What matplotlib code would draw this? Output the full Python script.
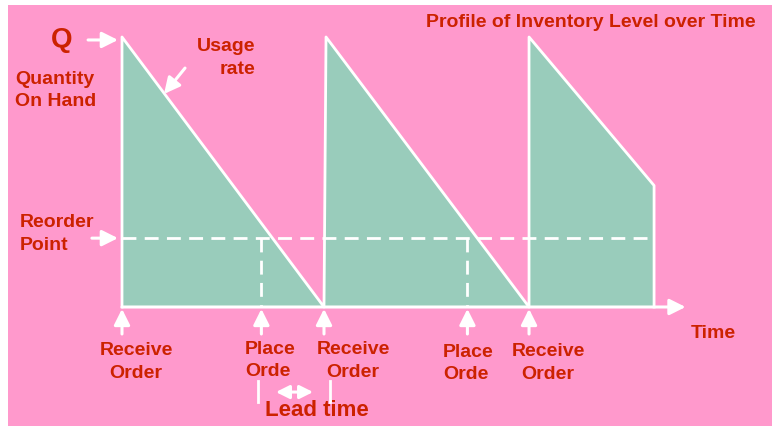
import matplotlib.pyplot as plt
from matplotlib.patches import Rectangle

# inventory profile (time units, level as % of Q)
time = [0, 0, 10, 10.1, 20.15, 20.15, 26.34, 26.34]
level = [0, 100, 0, 100, 0, 100, 45, 0]
reorder_level = 25.5
place_order_t = [6.9, 17.1]
receive_order_t = [0, 10, 20.15]
arrow_t = receive_order_t + place_order_t
time_axis_end = 27.9
lead_time = [6.73, 10.3]

PINK = "#FF99CC"
TEAL = "#99CCBB"
RED = "#CC2200"

plt.rcParams["font.family"] = ["Liberation Sans", "DejaVu Sans"]
plt.rcParams["font.weight"] = "bold"

fig = plt.figure(figsize=(7.77, 4.27), dpi=100)
ax = fig.add_axes([0, 0, 1, 1])
ax.set_xlim(-122 / 20.2, (777 - 122) / 20.2)
ax.set_ylim(-(427 - 308) / 2.7, 308 / 2.7)
ax.axis("off")

ax.add_patch(Rectangle((8 / 777, 0), 1 - 13 / 777, 1 - 6 / 427, transform=ax.transAxes,
                       facecolor=PINK, edgecolor="none", zorder=0))

ax.fill(time, level, color=TEAL, zorder=1)
ax.plot(time, level, color="white", lw=2, zorder=2)

# reorder point dashed line + place-order drops
ax.plot([0, time[-1]], [reorder_level, reorder_level], color="white", lw=2,
        dashes=(5, 3), zorder=3)
for t in place_order_t:
    ax.plot([t, t], [reorder_level, 0], color="white", lw=2, dashes=(5, 3), zorder=3)

arrow = dict(arrowstyle="-|>", color="white", lw=2.2, mutation_scale=24, shrinkA=0, shrinkB=0)

# time axis
ax.annotate("", xy=(time_axis_end, 0), xytext=(0, 0), arrowprops=arrow, zorder=4)

# up arrows under the axis
for t in arrow_t:
    ax.annotate("", xy=(t, -0.7), xytext=(t, -10), arrowprops=arrow)

ax.annotate("", xy=(-0.2, 98.9), xytext=(-1.68, 98.9), arrowprops=arrow)
ax.annotate("", xy=(-0.2, reorder_level), xytext=(-1.49, reorder_level), arrowprops=arrow)
ax.annotate("", xy=(2.08, 78.9), xytext=(3.12, 88.5), arrowprops=arrow)

# lead time marker
for t in lead_time:
    ax.plot([t, t], [-27.4, -35.2], color="white", lw=2)
ax.annotate("", xy=(9.46, -31.5), xytext=(7.62, -31.5),
            arrowprops=dict(arrowstyle="<|-|>", color="white", lw=2.2,
                            mutation_scale=20, shrinkA=0, shrinkB=0))

txt = dict(color=RED, fontweight="bold", fontsize=14, linespacing=1.4)
ax.text(-2.97, 99.3, "Q", ha="center", va="center", **{**txt, "fontsize": 20})
ax.text(6.58, 92.6, "Usage\nrate", ha="right", va="center", multialignment="right", **txt)
ax.text(-5.3, 80.7, "Quantity\nOn Hand", ha="left", va="center", **txt)
ax.text(-5.05, 27.4, "Reorder\nPoint", ha="left", va="center", **txt)
ax.text(0.69, -20.0, "Receive\nOrder", ha="center", va="center", multialignment="center", **txt)
ax.text(6.09, -19.3, "Place\nOrde", ha="left", va="center", **txt)
ax.text(11.44, -19.6, "Receive\nOrder", ha="center", va="center", multialignment="center", **txt)
ax.text(15.9, -20.7, "Place\nOrde", ha="left", va="center", **txt)
ax.text(21.1, -20.4, "Receive\nOrder", ha="center", va="center", multialignment="center", **txt)
ax.text(29.26, -9.3, "Time", ha="center", va="center", **txt)
ax.text(9.65, -37.8, "Lead time", ha="center", va="center", **{**txt, "fontsize": 16})
ax.text(23.2, 105.6, "Profile of Inventory Level over Time", ha="center", va="center",
        **{**txt, "fontsize": 14})

fig.savefig("out.png", dpi=100)
